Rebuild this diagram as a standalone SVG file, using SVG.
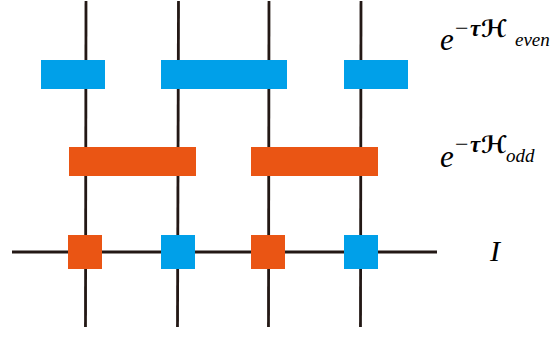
<svg xmlns="http://www.w3.org/2000/svg" width="555" height="337" viewBox="0 0 555 337">
<style>
.ln{stroke:#231815;stroke-width:2.8;fill:none}
.blue{fill:#00A0E9}
.org{fill:#EA5514}
.lab{font-family:"Liberation Serif","DejaVu Serif",serif;font-style:italic;fill:#000}
.mn{font-family:"Liberation Serif","DejaVu Serif",serif;font-size:24px;fill:#000}
.tau{font-family:"Liberation Serif","DejaVu Serif",serif;font-style:italic;font-weight:bold;font-size:23px;fill:#000}
.sym{font-family:"DejaVu Sans",sans-serif;font-style:oblique;font-weight:bold;font-size:24px;fill:#000}
</style>
<rect width="555" height="337" fill="#fff"/>
<g id="connectors">
<line class="ln" x1="86" y1="1" x2="85.5" y2="327"/>
<line class="ln" x1="178.5" y1="1" x2="177.5" y2="327"/>
<line class="ln" x1="269" y1="1" x2="268.5" y2="327"/>
<line class="ln" x1="361" y1="1" x2="360.5" y2="327"/>
<line class="ln" x1="12" y1="252" x2="437" y2="252"/>
</g>
<g id="even-gate-1"><rect class="blue" x="41" y="60" width="64" height="29"/></g>
<g id="even-gate-2"><rect class="blue" x="161" y="60" width="126" height="29"/></g>
<g id="even-gate-3"><rect class="blue" x="344" y="60" width="64" height="29"/></g>
<g id="odd-gate-1"><rect class="org" x="69" y="147" width="127" height="29"/></g>
<g id="odd-gate-2"><rect class="org" x="251" y="147" width="127" height="29"/></g>
<g id="site-1"><rect class="org" x="68" y="235" width="34" height="34"/></g>
<g id="site-2"><rect class="blue" x="161" y="235" width="34" height="34"/></g>
<g id="site-3"><rect class="org" x="251" y="235" width="34" height="34"/></g>
<g id="site-4"><rect class="blue" x="344" y="235" width="34" height="34"/></g>
<g id="label-even">
<text class="lab" x="440" y="50" font-size="31">e</text>
<text class="mn" x="455" y="36">−</text>
<text class="tau" x="470" y="36">τ</text>
<text class="sym" x="481" y="37">ℋ</text>
<text class="lab" x="515" y="46" font-size="19">even</text>
</g>
<g id="label-odd">
<text class="lab" x="440" y="167" font-size="31">e</text>
<text class="mn" x="455" y="152">−</text>
<text class="tau" x="470" y="152">τ</text>
<text class="sym" x="481" y="153">ℋ</text>
<text class="lab" x="506" y="162" font-size="19">odd</text>
</g>
<g id="label-identity">
<text class="lab" x="490" y="261" font-size="30">I</text>
</g>
</svg>
